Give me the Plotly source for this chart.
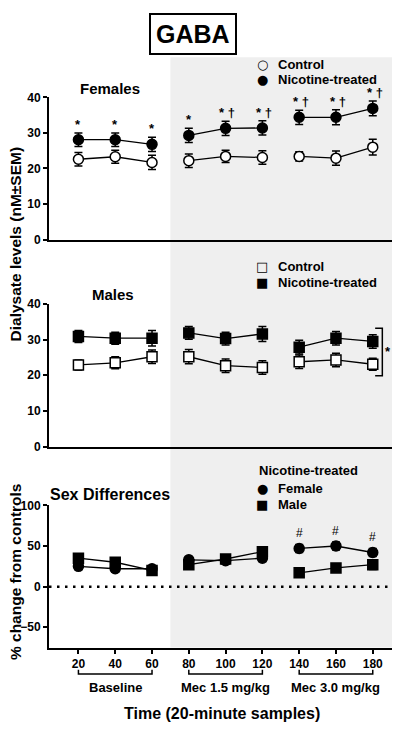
import plotly.graph_objects as go

# ---------------- data ----------------
times = [20, 40, 60, 80, 100, 120, 140, 160, 180]
tick_labels = ["20", "40", "60", "80", "100", "120", "140", "160", "180"]
groups = ["Baseline", "Mec 1.5 mg/kg", "Mec 3.0 mg/kg"]

fem_control = [22.6, 23.3, 21.7, 22.2, 23.4, 23.1, 23.4, 22.9, 26.0]
fem_control_err = [1.9, 1.8, 2.0, 1.9, 1.7, 1.9, 1.3, 2.0, 2.2]
fem_nic = [28.1, 28.1, 26.8, 29.3, 31.3, 31.4, 34.4, 34.4, 36.9]
fem_nic_err = [1.9, 1.9, 2.0, 2.0, 2.0, 2.0, 2.0, 2.1, 2.1]
fem_sig = ["*", "*", "*", "*", "* \u2020", "* \u2020", "* \u2020", "* \u2020", "* \u2020"]

male_control = [22.9, 23.5, 25.2, 25.2, 22.7, 22.2, 23.8, 24.3, 23.1]
male_control_err = [1.4, 1.7, 1.9, 2.0, 1.9, 1.9, 1.9, 1.9, 1.7]
male_nic = [30.9, 30.4, 30.4, 31.9, 30.3, 31.6, 27.9, 30.4, 29.5]
male_nic_err = [1.7, 1.7, 2.2, 1.8, 1.8, 2.1, 1.9, 1.9, 1.9]

diff_female = [25, 22, 22, 33, 32, 35, 47, 50, 42]
diff_female_err = [4, 4, 3, 4, 4, 4, 5, 5, 5]
diff_male = [35, 30, 20, 27, 34, 43, 17, 23, 27]
diff_male_err = [5, 5, 4, 5, 4, 6, 4, 4, 6]
diff_sig = ["", "", "", "", "", "", "#", "#", "#"]

X_RANGE = [4, 191]
SHADE_START = 70

FONT = "Liberation Sans, Arial, sans-serif"


def gapped(vals):
    """Insert a break between the three 3-point groups."""
    out = []
    for i, v in enumerate(vals):
        if i > 0 and i % 3 == 0:
            out.append(None)
        out.append(v)
    return out


fig = go.Figure()


def add_series(xa, ya, y, err, symbol, filled, name):
    fig.add_trace(go.Scatter(
        x=gapped(times), y=gapped(y), xaxis=xa, yaxis=ya,
        mode="lines+markers", name=name, showlegend=False,
        line=dict(color="black", width=1.3),
        marker=dict(symbol=symbol, size=10,
                    color="black" if filled else "white",
                    line=dict(color="black", width=1.5)),
        error_y=dict(type="data", array=gapped(err), color="black",
                     thickness=1.5, width=4),
        cliponaxis=False,
    ))


add_series("x", "y", fem_control, fem_control_err, "circle", False, "Control")
add_series("x", "y", fem_nic, fem_nic_err, "circle", True, "Nicotine-treated")
add_series("x2", "y2", male_control, male_control_err, "square", False, "Control")
add_series("x2", "y2", male_nic, male_nic_err, "square", True, "Nicotine-treated")
add_series("x3", "y3", diff_female, diff_female_err, "circle", True, "Female")
add_series("x3", "y3", diff_male, diff_male_err, "square", True, "Male")

# page body has an 8px default margin: lay the figure out in page pixels
OFF = 8
W, H = 400 - OFF, 735 - OFF
def px(x):
    return (x - OFF) / W
def py(y):
    return 1 - (y - OFF) / H

x_dom = [px(49), px(393)]
dom1 = [py(237), py(92)]
dom2 = [py(448), py(302.7)]
dom3 = [py(653), py(508)]

tickfont = dict(family=FONT, size=12, color="black", weight="bold")
common_y = dict(showline=True, linewidth=2, linecolor="black", ticks="outside",
                ticklen=4, tickwidth=2, tickcolor="black", showgrid=False,
                zeroline=False, tickfont=tickfont)
common_x = dict(range=X_RANGE, showline=True, linewidth=2, linecolor="black",
                showgrid=False, zeroline=False, domain=x_dom)

fig.update_layout(
    width=W, height=H,
    margin=dict(l=0, r=0, t=0, b=0),
    paper_bgcolor="white", plot_bgcolor="rgba(0,0,0,0)",
    font=dict(family=FONT, color="black"),
    showlegend=False,
    xaxis=dict(common_x, anchor="y", showticklabels=False, ticks=""),
    yaxis=dict(common_y, domain=dom1, range=[0, 40], tickvals=[0, 10, 20, 30, 40], anchor="x"),
    xaxis2=dict(common_x, anchor="y2", showticklabels=False, ticks=""),
    yaxis2=dict(common_y, domain=dom2, range=[0, 40], tickvals=[0, 10, 20, 30, 40], anchor="x2"),
    xaxis3=dict(common_x, anchor="y3", tickvals=times, ticktext=tick_labels,
                ticks="outside", ticklen=4, tickwidth=2, tickcolor="black",
                tickfont=tickfont),
    yaxis3=dict(common_y, domain=dom3, range=[-75, 100], tickvals=[-50, 0, 50, 100], anchor="x3"),
)

shapes = []
# shaded mecamylamine period
shapes.append(dict(type="rect", xref="x3", yref="paper", x0=SHADE_START, x1=X_RANGE[1],
                   y0=dom3[0], y1=py(51), fillcolor="#efefef", line=dict(width=0),
                   layer="below"))
# zero reference line in sex-difference panel
shapes.append(dict(type="line", xref="x3 domain", yref="y3", x0=0, x1=1, y0=0, y1=0,
                   line=dict(color="black", width=2.5, dash="2.5px,5.5px")))
# group brackets under x axis
yb0, yb1 = py(680), py(675.5)
for gi in range(3):
    xa, xb = times[gi * 3], times[gi * 3 + 2]
    shapes.append(dict(type="path", xref="x3", yref="paper",
                       path=f"M {xa},{yb1} L {xa},{yb0} L {xb},{yb0} L {xb},{yb1}",
                       line=dict(color="black", width=1.5)))
# male overall significance bracket
shapes.append(dict(type="path", xref="x2", yref="y2",
                   path="M 181.3,33.2 L 185.2,33.2 L 185.2,19.9 L 181.3,19.9",
                   line=dict(color="black", width=1.5)))
fig.update_layout(shapes=shapes)

ann = []
def text_ann(text, x, y, size, xanchor="center", **kw):
    d = dict(text=text, xref="paper", yref="paper", x=px(x), y=py(y), showarrow=False,
             font=dict(family=FONT, size=size, color="black"), xanchor=xanchor,
             yanchor="middle", borderpad=0)
    d.update(kw)
    ann.append(d)

# title box
text_ann("<b>GABA</b>", 193, 27.5, 25, bordercolor="black", borderwidth=2, borderpad=5)
# panel labels
text_ann("<b>Females</b>", 110, 83, 15)
text_ann("<b>Males</b>", 113, 293, 15)
text_ann("<b>Sex Differences</b>", 49, 497, 16, xanchor="left")
# y-axis titles
text_ann("<b>Dialysate levels (nM\u00b1SEM)</b>", 15, 242, 15.5, textangle=-90)
text_ann("<b>% change from controls</b>", 15, 576, 15.5, textangle=-90)
# x-axis title
text_ann("<b>Time (20-minute samples)</b>", 222, 720, 16)

# legends (key glyph + label)
legend_rows = [
    ("\u25cb", "Control", 58), ("\u25cf", "Nicotine-treated", 73.5),
    ("\u25a1", "Control", 264), ("\u25a0", "Nicotine-treated", 281),
    ("\u25cf", "Female", 490.5), ("\u25a0", "Male", 507),
]
for glyph, label, yy in legend_rows:
    text_ann(glyph, 262, yy, 13, font=dict(family="DejaVu Sans", size=13, color="black"))
    text_ann(f"<b>{label}</b>", 277, yy, 13, xanchor="left")
text_ann("<b>Nicotine-treated</b>", 258, 472, 13, xanchor="left")

# group labels
for gi, g in enumerate(groups):
    ann.append(dict(text=f"<b>{g}</b>", xref="x3", yref="paper", x=times[gi * 3 + 1],
                    y=py(694), showarrow=False, font=dict(family=FONT, size=13),
                    xanchor="center", yanchor="middle"))
# significance marks, females
for t, v, e, s in zip(times, fem_nic, fem_nic_err, fem_sig):
    ann.append(dict(text=f"<b>{s}</b>", xref="x", yref="y", x=t + (1 if len(s) > 1 else 0),
                    y=v + e, yanchor="bottom", xanchor="center", showarrow=False,
                    font=dict(family=FONT, size=13), yshift=-1))
# significance marks, sex differences
for t, v, e, s in zip(times, diff_female, diff_female_err, diff_sig):
    if s:
        ann.append(dict(text=s, xref="x3", yref="y3", x=t, y=v + e, yanchor="bottom",
                        xanchor="center", showarrow=False,
                        font=dict(family=FONT, size=12), yshift=2))
# male bracket star
ann.append(dict(text="<b>*</b>", xref="x2", yref="y2", x=188.5, y=26.6, showarrow=False,
                font=dict(family=FONT, size=13), xanchor="center", yanchor="middle"))
fig.update_layout(annotations=ann)

fig.write_html("out.html")
